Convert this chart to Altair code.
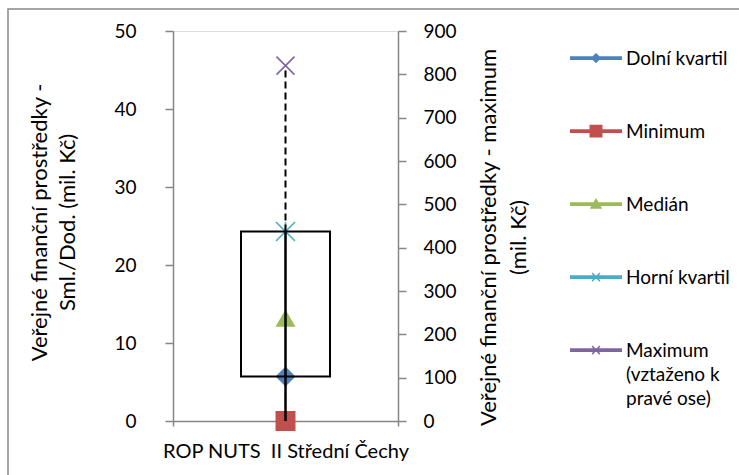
import json
import altair as alt
import pandas as pd

# ---------------- data ----------------
categories = ["ROP NUTS\u00a0 II Střední Čechy"]
dolni_kvartil = [5.7]      # left axis
minimum = [0.0]            # left axis
median = [13.2]            # left axis
horni_kvartil = [24.3]     # left axis
maximum_right = [820.0]    # right axis

max_label_lines = ["Maximum", "(vztaženo k", "pravé ose)"]
series_names = ["Dolní kvartil", "Minimum", "Medián", "Horní kvartil", " ".join(max_label_lines)]
series_colors = ["#4F81BD", "#C0504D", "#9BBB59", "#4BACC6", "#8064A2"]
left_ticks = [0, 10, 20, 30, 40, 50]
right_ticks = [0, 100, 200, 300, 400, 500, 600, 700, 800, 900]
LEFT_MAX = 50
RIGHT_MAX = 900

left_title = ["Veřejné finanční prostředky -", "Sml./Dod. (mil. Kč)"]
right_title = ["Veřejné finanční prostředky - maximum", "(mil. Kč)"]

# ---------------- tables ----------------
wide = pd.DataFrame({
    "cat": categories,
    "q1": dolni_kvartil,
    "mn": minimum,
    "med": median,
    "q3": horni_kvartil,
    "mx": maximum_right,
})
legend_df = pd.DataFrame({
    "series": series_names,
    "cat": categories * len(series_names),
    "v": [dolni_kvartil[0], minimum[0], median[0], horni_kvartil[0], 0.0],
})

FONT = "Lato"
GRAY = "#868686"
FS = 19
TFS = 22

# legend symbols: thick line + marker (unit coords, shifted up to sit on text middle)
line_p = "M-1,-0.34H1V-0.19H-1Z"
legend_shapes = [
    line_p + "M0,-0.46L0.2,-0.265L0,-0.07L-0.2,-0.265Z",
    line_p + "M-0.25,-0.51H0.25V-0.02H-0.25Z",
    line_p + "M0,-0.5L0.24,-0.09H-0.24Z",
    line_p + "M-0.17,-0.4L-0.13,-0.44L0.17,-0.13L0.13,-0.09Z"
             "M-0.17,-0.13L0.13,-0.44L0.17,-0.4L-0.13,-0.09Z",
    line_p + "M-0.17,-0.4L-0.13,-0.44L0.17,-0.13L0.13,-0.09Z"
             "M-0.17,-0.13L0.13,-0.44L0.17,-0.4L-0.13,-0.09Z",
]

x_axis = alt.Axis(title=None, labelAngle=0, ticks=True, tickBand="extent", tickSize=5,
                  tickColor=GRAY, tickWidth=1.5, labelFont=FONT, labelFontSize=20,
                  labelColor="black", labelPadding=15, domainColor=GRAY, domainWidth=1.5,
                  labelLimit=400)
x_scale = alt.Scale(domain=categories, paddingInner=0, paddingOuter=0)
x_enc = alt.X("cat:N", scale=x_scale, axis=x_axis)

y_left_scale = alt.Scale(domain=[0, LEFT_MAX], nice=False, zero=True)
left_axis = alt.Axis(
    values=left_ticks, orient="left", title=left_title, grid=False,
    titleFont=FONT, titleFontSize=TFS, titleFontWeight="normal", titleColor="black",
    titleX=-122, titleY=191, titleAngle=270, titleAlign="center", titleBaseline="bottom",
    titleLineHeight=28,
    labelFont=FONT, labelFontSize=FS, labelColor="black", labelPadding=29,
    tickSize=8, tickColor=GRAY, tickWidth=1.5, domainColor=GRAY, domainWidth=1.5,
)
y_right_scale = alt.Scale(domain=[0, RIGHT_MAX], nice=False, zero=True)
right_axis = alt.Axis(
    values=right_ticks, orient="right", title=right_title, grid=False,
    titleFont=FONT, titleFontSize=TFS, titleFontWeight="normal", titleColor="black",
    titleX=102, titleY=206, titleAngle=270, titleAlign="center", titleBaseline="bottom",
    titleLineHeight=30,
    labelFont=FONT, labelFontSize=FS, labelColor="black", labelPadding=17,
    tickSize=8, tickColor=GRAY, tickWidth=1.5, domainColor=GRAY, domainWidth=1.5,
)


def yl(field):
    return alt.Y(field, scale=y_left_scale, axis=left_axis)


def yr(field):
    return alt.Y(field, scale=y_right_scale, axis=right_axis)


base = alt.Chart(wide)

border = base.mark_rect(filled=False, color="#898989", strokeWidth=1.5).encode(
    x=alt.value(-165), x2=alt.value(600), y=alt.value(-22), y2=alt.value(470)
)

box = base.mark_bar(fill="transparent", stroke="black", strokeWidth=2, size=89).encode(
    x=x_enc, y=yl("q1:Q"), y2="q3:Q",
)
p_q1 = base.mark_point(shape="diamond", filled=True, size=400, opacity=1, color=series_colors[0]).encode(
    x=x_enc, y=yl("q1:Q"))
p_min = base.mark_point(shape="square", filled=True, size=400, opacity=1, color=series_colors[1]).encode(
    x=x_enc, y=yl("mn:Q"))
p_med = base.mark_point(shape="triangle-up", filled=True, size=400, opacity=1, color=series_colors[2]).encode(
    x=x_enc, y=yl("med:Q"))
p_q3 = base.mark_point(shape="M-1,-1L1,1M-1,1L1,-1M0,-1L0,1", filled=False, size=361, opacity=1,
                       strokeWidth=1.6, color=series_colors[3]).encode(
    x=x_enc, y=yl("q3:Q"))
whisker = base.mark_rule(color="black", strokeWidth=2.5).encode(
    x=x_enc, y=yl("mn:Q"), y2="q3:Q")

# legend-only layer (no visible marks: rows are filtered out, legend comes from explicit scale domain)
legend_layer = alt.Chart(legend_df).transform_filter("datum.v < -1").mark_point(
    filled=True, opacity=1).encode(
    x=x_enc,
    y=yl("v:Q"),
    color=alt.Color("series:N", scale=alt.Scale(domain=series_names, range=series_colors),
                    legend=alt.Legend(
                        title=None, orient="none", legendX=397, legendY=8, padding=0,
                        symbolSize=2704, symbolStrokeWidth=0, symbolOpacity=1,
                        labelFont=FONT, labelFontSize=FS, labelColor="black", labelOffset=4,
                        labelBaseline="alphabetic", rowPadding=43, labelLimit=300,
                        labelExpr="datum.label == " + json.dumps(series_names[4]) + " ? "
                                  + json.dumps(max_label_lines) + " : datum.label",
                    )),
    shape=alt.Shape("series:N", scale=alt.Scale(domain=series_names, range=legend_shapes)),
)

left = alt.layer(border, p_q1, p_min, p_med, p_q3, box, whisker, legend_layer)

dashed = base.transform_calculate(q3r=f"datum.q3 * {RIGHT_MAX} / {LEFT_MAX}").mark_rule(
    color="black", strokeWidth=2, strokeDash=[7, 4]).encode(
    x=x_enc, y=yr("q3r:Q"), y2="mx:Q",
)
p_max = base.mark_point(shape="M-1,-1L1,1M-1,1L1,-1", filled=False, size=324, opacity=1,
                        strokeWidth=1.6, color=series_colors[4]).encode(
    x=x_enc, y=yr("mx:Q"))
right = alt.layer(dashed, p_max)

chart = alt.layer(left, right).resolve_scale(y="independent").properties(
    width=225, height=390,
    autosize=alt.AutoSizeParams(type="none"),
    padding={"left": 173, "top": 31, "right": 341, "bottom": 54},
    background="white",
).configure_view(stroke=None).configure(
    style={"guide-label": {"lineHeight": 24}}
)

chart.save("out.html", embed_options={"renderer": "svg", "actions": False})
